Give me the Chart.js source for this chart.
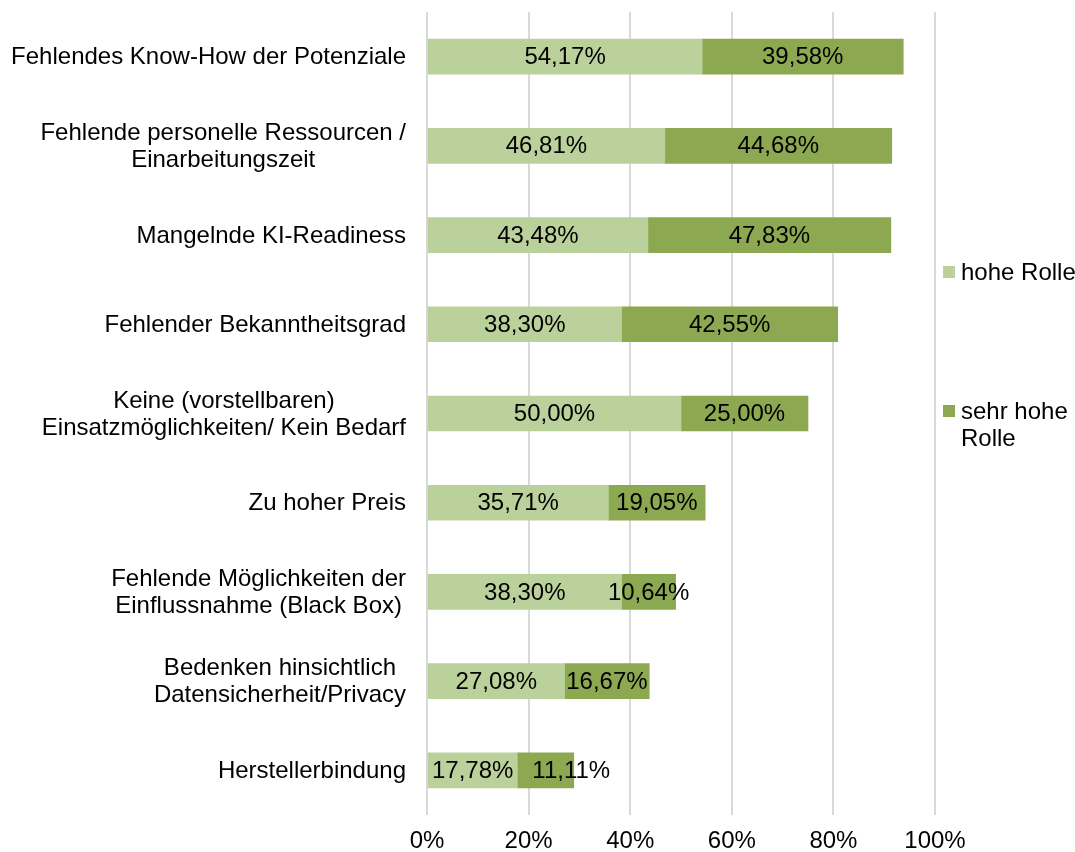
<!DOCTYPE html>
<html>
<head>
<meta charset="utf-8">
<script src="https://cdn.jsdelivr.net/npm/chart.js@4.4.1/dist/chart.umd.min.js"></script>
<style>
  html, body { margin: 0; padding: 0; background: #fff; }
  #wrap { width: 1075px; height: 852px; position: relative; }
</style>
</head>
<body>
<div id="wrap"><canvas id="chart"></canvas></div>
<script>
// --- Data ---
const categories = [
    'Fehlendes Know-How der Potenziale',
    ['Fehlende personelle Ressourcen /', 'Einarbeitungszeit'],
    'Mangelnde KI-Readiness',
    'Fehlender Bekanntheitsgrad',
    ['Keine (vorstellbaren)', 'Einsatzmöglichkeiten/ Kein Bedarf'],
    'Zu hoher Preis',
    ['Fehlende Möglichkeiten der', 'Einflussnahme (Black Box)'],
    ['Bedenken hinsichtlich', 'Datensicherheit/Privacy'],
    'Herstellerbindung'
];
const hoheRolle = [54.17, 46.81, 43.48, 38.30, 50.00, 35.71, 38.30, 27.08, 17.78];
const sehrHoheRolle = [39.58, 44.68, 47.83, 42.55, 25.00, 19.05, 10.64, 16.67, 11.11];
const seriesNames = ['hohe Rolle', ['sehr hohe', 'Rolle']];
const xTicks = [0, 20, 40, 60, 80, 100];

const FONT = '24px "Liberation Sans", Arial, sans-serif';
const fmt = v => v.toFixed(2).replace('.', ',') + '%';

// Werte mittig in die Balken schreiben (mit Abstand zum vorigen Label)
const barLabels = {
    id: 'barLabels',
    afterDatasetsDraw(chart) {
        const ctx = chart.ctx;
        const minGap = 19;
        ctx.save();
        ctx.font = FONT;
        ctx.fillStyle = '#000';
        ctx.textAlign = 'center';
        ctx.textBaseline = 'middle';
        const prevRight = {};
        chart.data.datasets.forEach((ds, i) => {
            chart.getDatasetMeta(i).data.forEach((bar, j) => {
                const txt = fmt(ds.data[j]);
                const w = ctx.measureText(txt).width;
                let cx = (bar.x + bar.base) / 2;
                if (prevRight[j] !== undefined && cx - w / 2 < prevRight[j] + minGap) {
                    cx = prevRight[j] + minGap + w / 2;
                }
                prevRight[j] = cx + w / 2;
                ctx.fillText(txt, cx, bar.y + 1);
            });
        });
        ctx.restore();
    }
};

// Kategorien links, mehrzeilig zentriert (wie Excel)
const catLabels = {
    id: 'catLabels',
    afterDraw(chart) {
        const ctx = chart.ctx, yScale = chart.scales.y;
        const right = chart.chartArea.left - 21, lh = 27;
        ctx.save();
        ctx.font = FONT;
        ctx.fillStyle = '#000';
        ctx.textAlign = 'center';
        ctx.textBaseline = 'middle';
        chart.data.labels.forEach((lab, i) => {
            const lines = Array.isArray(lab) ? lab : [lab];
            const w = Math.max(...lines.map(l => ctx.measureText(l).width));
            const cx = right - w / 2;
            const y0 = yScale.getPixelForValue(i) - (lines.length - 1) * lh / 2;
            lines.forEach((l, k) => ctx.fillText(l, cx, y0 + k * lh + 1));
        });
        ctx.restore();
    }
};

// Legende rechts
const sideLegend = {
    id: 'sideLegend',
    afterDraw(chart) {
        const ctx = chart.ctx;
        const pos = [272, 411];
        ctx.save();
        ctx.font = FONT;
        ctx.textBaseline = 'middle';
        ctx.textAlign = 'left';
        chart.data.datasets.forEach((ds, i) => {
            const y = pos[i];
            ctx.fillStyle = ds.backgroundColor;
            ctx.fillRect(943, y - 6, 12, 12);
            ctx.fillStyle = '#000';
            const lines = Array.isArray(ds.legendText) ? ds.legendText : [ds.legendText];
            lines.forEach((l, k) => ctx.fillText(l, 961, y + 1 + k * 27));
        });
        ctx.restore();
    }
};

new Chart(document.getElementById('chart'), {
    type: 'bar',
    data: {
        labels: categories,
        datasets: [
            { label: 'hohe Rolle', legendText: seriesNames[0], data: hoheRolle, backgroundColor: '#BBD19B', barThickness: 35 },
            { label: 'sehr hohe Rolle', legendText: seriesNames[1], data: sehrHoheRolle, backgroundColor: '#8CA850', barThickness: 35 }
        ]
    },
    options: {
        indexAxis: 'y',
        responsive: true,
        maintainAspectRatio: false,
        animation: false,
        layout: { padding: { top: 12, right: 140, left: 0, bottom: 0 } },
        plugins: { legend: { display: false }, tooltip: { enabled: false } },
        scales: {
            x: {
                stacked: true,
                min: 0, max: 100,
                afterBuildTicks: s => { s.ticks = xTicks.map(v => ({ value: v })); },
                afterFit: s => { s.height = 37; },
                grid: { color: '#D9D9D9', lineWidth: 2, drawTicks: false },
                border: { display: false },
                ticks: { color: '#000', font: { family: '"Liberation Sans", Arial, sans-serif', size: 24 }, padding: 12, callback: v => v + '%' }
            },
            y: {
                stacked: true,
                afterFit: s => { s.width = 427; },
                grid: { display: false, drawTicks: false },
                border: { display: false },
                ticks: { display: false }
            }
        }
    },
    plugins: [barLabels, catLabels, sideLegend]
});
</script>
</body>
</html>
